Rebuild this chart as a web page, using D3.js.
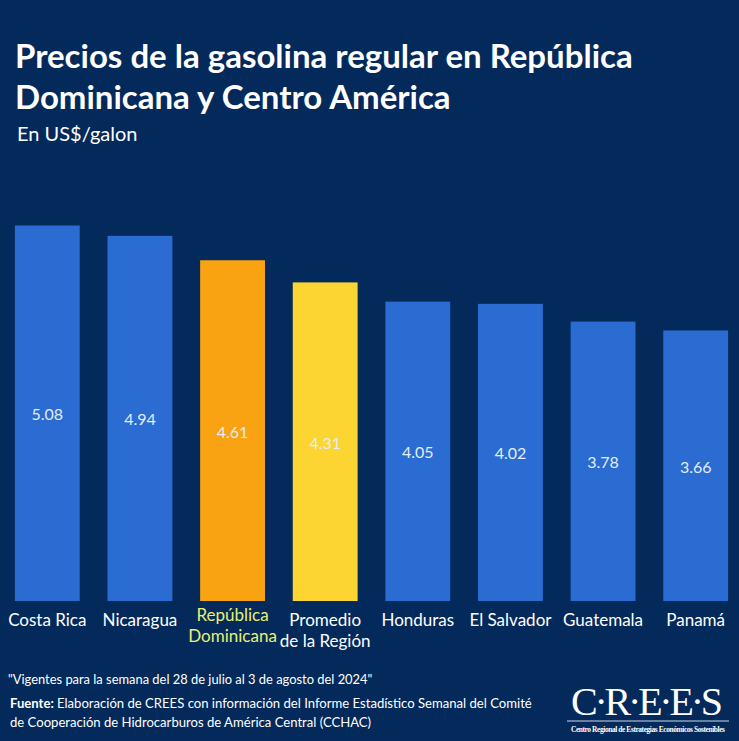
<!DOCTYPE html>
<html>
<head>
<meta charset="utf-8">
<script src="https://cdn.jsdelivr.net/npm/d3@7"></script>
<style>
  html, body { margin: 0; padding: 0; background: #042a5c; }
  svg { display: block; }
  text { font-family: Lato, "Open Sans", sans-serif; }
  text.serif { font-family: "Liberation Serif", "DejaVu Serif", serif; }
</style>
</head>
<body>
<div id="chart"></div>
<script>
// data
const countries = ['Costa Rica', 'Nicaragua', 'República Dominicana', 'Promedio de la Región',
                   'Honduras', 'El Salvador', 'Guatemala', 'Panamá']
const prices = [5.08, 4.94, 4.61, 4.31, 4.05, 4.02, 3.78, 3.66]
const labelLines = [['Costa Rica'], ['Nicaragua'], ['República', 'Dominicana'], ['Promedio', 'de la Región'],
                    ['Honduras'], ['El Salvador'], ['Guatemala'], ['Panamá']]

const width = 739
const height = 741
const bottom = 601

const barColor = d => d === 'República Dominicana' ? '#f9a313'
                    : d === 'Promedio de la Región' ? '#fdd533'
                    : '#2a6cd2'

const svg = d3.select('#chart').append('svg')
    .attr('width', width)
    .attr('height', height)

svg.append('rect')
    .attr('width', width)
    .attr('height', height)
    .attr('fill', '#042a5c')

// title
svg.append('text')
    .attr('x', 15).attr('y', 68)
    .attr('fill', '#fff')
    .attr('font-size', 33).attr('font-weight', 700)
    .text('Precios de la gasolina regular en República')
svg.append('text')
    .attr('x', 15).attr('y', 109)
    .attr('fill', '#fff')
    .attr('font-size', 33).attr('font-weight', 700)
    .text('Dominicana y Centro América')
svg.append('text')
    .attr('x', 17).attr('y', 141)
    .attr('fill', '#fff')
    .attr('font-size', 20)
    .text('En US$/galon')

const x = d3.scaleBand()
    .domain(countries)
    .range([1, 742])
    .paddingInner(0.3)
    .paddingOuter(0.15)

const y = d3.scaleLinear()
    .domain([0, 5.08])
    .range([bottom, 225.5])

const data = countries.map((c, i) => ({ name: c, value: prices[i], lines: labelLines[i] }))

svg.selectAll('rect.bar')
    .data(data)
    .enter().append('rect')
        .attr('class', 'bar')
        .attr('x', d => x(d.name))
        .attr('y', d => y(d.value))
        .attr('width', x.bandwidth())
        .attr('height', d => y(0) - y(d.value))
        .attr('fill', d => barColor(d.name))

svg.selectAll('text.val')
    .data(data)
    .enter().append('text')
        .attr('class', 'val')
        .attr('x', d => x(d.name) + x.bandwidth() / 2)
        .attr('y', d => (y(d.value) + y(0)) / 2 + 7)
        .attr('text-anchor', 'middle')
        .attr('fill', '#e4ecf8')
        .attr('font-size', 16)
        .text(d => d.value.toFixed(2))

// category labels, the two line ones sit a bit differently
const labels = svg.selectAll('text.cat')
    .data(data)
    .enter().append('text')
        .attr('class', 'cat')
        .attr('x', d => x(d.name) + x.bandwidth() / 2)
        .attr('y', d => d.name === 'República Dominicana' ? 621 : 626)
        .attr('text-anchor', 'middle')
        .attr('font-size', 17)
        .attr('fill', d => d.name === 'República Dominicana' ? '#e8f070' : '#fff')

labels.selectAll('tspan')
    .data(d => d.lines)
    .enter().append('tspan')
        .attr('x', function () { return d3.select(this.parentNode).attr('x') })
        .attr('dy', (d, i) => i === 0 ? 0 : 21)
        .text(d => d)

// footer
svg.append('text')
    .attr('x', 8).attr('y', 684)
    .attr('fill', '#fff')
    .attr('font-size', 12.9)
    .text('"Vigentes para la semana del 28 de julio al 3 de agosto del 2024"')

const src = svg.append('text')
    .attr('x', 10).attr('y', 708)
    .attr('fill', '#fff')
    .attr('font-size', 13.1)
src.append('tspan').attr('font-weight', 700).text('Fuente: ')
src.append('tspan').text('Elaboración de CREES con información del Informe Estadístico Semanal del Comité')
svg.append('text')
    .attr('x', 10).attr('y', 727)
    .attr('fill', '#fff')
    .attr('font-size', 13.1)
    .text('de Cooperación de Hidrocarburos de América Central (CCHAC)')

// logo
svg.append('text')
    .attr('class', 'serif')
    .attr('x', 647).attr('y', 715)
    .attr('text-anchor', 'middle')
    .attr('fill', '#fff')
    .attr('font-size', 40)
    .attr('textLength', 152)
    .text('C·R·E·E·S')
svg.append('line')
    .attr('x1', 567).attr('x2', 729)
    .attr('y1', 721).attr('y2', 721)
    .attr('stroke', '#cfd8e6').attr('stroke-width', 1)
svg.append('text')
    .attr('class', 'serif')
    .attr('x', 648).attr('y', 732)
    .attr('text-anchor', 'middle')
    .attr('fill', '#fff')
    .attr('font-size', 7.4)
    .attr('font-weight', 700)
    .attr('textLength', 154)
    .text('Centro Regional de Estrategias Económicos Sostenibles')
</script>
</body>
</html>
